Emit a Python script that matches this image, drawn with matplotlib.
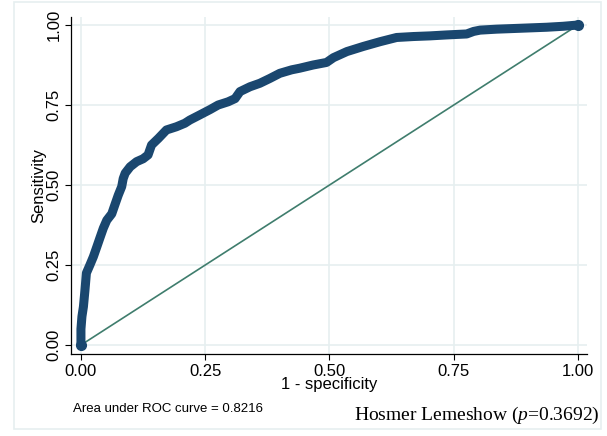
import matplotlib
matplotlib.use("Agg")
import matplotlib.pyplot as plt
from matplotlib.patches import Rectangle

# ROC curve points (1 - specificity, sensitivity)
fpr = [0, 0, 0.002, 0.005, 0.008, 0.011, 0.018, 0.025, 0.032, 0.038, 0.045,
       0.052, 0.062, 0.068, 0.075, 0.082, 0.085, 0.089, 0.099, 0.112, 0.125,
       0.135, 0.142, 0.156, 0.172, 0.192, 0.209, 0.219, 0.239, 0.26, 0.276,
       0.296, 0.31, 0.32, 0.34, 0.36, 0.38, 0.40, 0.424, 0.44, 0.467,
       0.494, 0.508, 0.535, 0.568, 0.602, 0.635, 0.669, 0.702, 0.736, 0.776,
       0.79, 0.803, 0.836, 0.87, 0.937, 0.97, 1.0]
tpr = [0, 0.05, 0.089, 0.12, 0.17, 0.225, 0.25, 0.276, 0.307, 0.334, 0.365,
       0.39, 0.41, 0.437, 0.468, 0.495, 0.52, 0.537, 0.557, 0.573, 0.582,
       0.594, 0.625, 0.646, 0.672, 0.682, 0.693, 0.703, 0.719, 0.736, 0.75,
       0.76, 0.77, 0.792, 0.807, 0.818, 0.833, 0.849, 0.86, 0.865, 0.875,
       0.883, 0.898, 0.917, 0.933, 0.948, 0.961, 0.964, 0.966, 0.969, 0.972,
       0.98, 0.984, 0.987, 0.989, 0.993, 0.996, 1.0]
ticks = [0, 0.25, 0.5, 0.75, 1.0]
tick_labels = ["0.00", "0.25", "0.50", "0.75", "1.00"]
auc_note = "Area under ROC curve = 0.8216"

plt.rcParams['font.family'] = ['Liberation Sans', 'DejaVu Sans']
plt.rcParams['mathtext.fontset'] = 'custom'
plt.rcParams['mathtext.rm'] = 'Liberation Serif'
plt.rcParams['mathtext.it'] = 'Liberation Serif:italic'

fig = plt.figure(figsize=(6.07, 4.36), dpi=100)
W, H = 607, 436
ax = fig.add_axes([71 / W, 1 - 354 / H, (587 - 71) / W, (354 - 17) / H])

grid_col = "#e6eff0"
for t in ticks:
    ax.axhline(t, color=grid_col, lw=1.2, zorder=0)
    ax.axvline(t, color=grid_col, lw=1.2, zorder=0)

ax.plot([0, 1], [0, 1], color="#3f7d6d", lw=1.2, zorder=2)
ax.plot(fpr, tpr, color="#1a476f", lw=6.5,
        solid_capstyle="round", solid_joinstyle="round", zorder=3)
ax.plot([fpr[0], fpr[-1]], [tpr[0], tpr[-1]], "o", color="#1a476f", ms=7, zorder=3)

ax.set_xlim(-0.02, 1.018)
ax.set_ylim(-0.028, 1.025)
ax.set_xticks(ticks)
ax.set_xticklabels(tick_labels, fontsize=12)
ax.set_yticks(ticks)
ax.set_yticklabels(tick_labels, fontsize=12, rotation=90, va="center")
ax.tick_params(direction="out", length=4, width=0.8, pad=3)
ax.spines["top"].set_visible(False)
ax.spines["right"].set_visible(False)
ax.spines["left"].set_linewidth(0.9)
ax.spines["bottom"].set_linewidth(0.9)

ax.set_xlabel("1 - specificity", fontsize=12, labelpad=-1)
ax.set_ylabel("Sensitivity", fontsize=12, labelpad=0)

fig.text(73 / W, 1 - 409 / H, auc_note, fontsize=9.5, va="center", ha="left")
fig.text(600 / W, 1 - 415 / H, r"Hosmer Lemeshow ($\it{p}$=0.3692)",
         fontsize=14, family="Liberation Serif", ha="right", va="center")

fig.patches.append(Rectangle((14 / W, 1 - 429 / H), (601 - 14) / W, (429 - 2) / H,
                             transform=fig.transFigure, fill=False,
                             edgecolor="#e6eff0", lw=1.2))

fig.savefig("out.png", dpi=100)
